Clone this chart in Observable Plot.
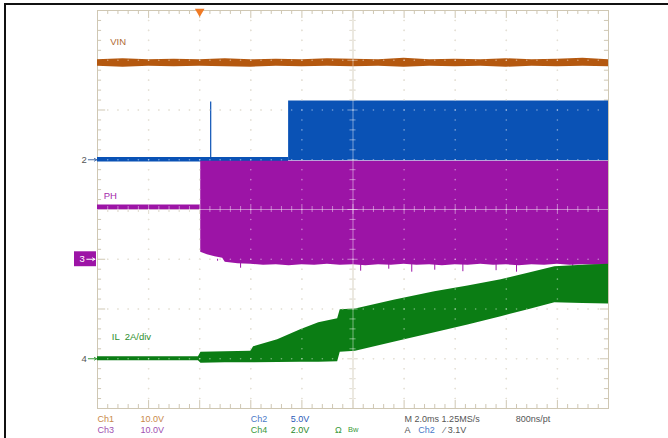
<!DOCTYPE html>
<html><head><meta charset="utf-8">
<script src="https://cdn.jsdelivr.net/npm/d3@7"></script>
<script src="https://cdn.jsdelivr.net/npm/@observablehq/plot@0.6"></script>
<style>
body{margin:0;background:#fff;}
#wrap{position:relative;width:668px;height:438px;overflow:hidden;background:#fff;}
#border{position:absolute;left:4px;top:3px;right:-10px;bottom:-10px;border-top:2px solid #111;border-left:2px solid #111;}
#chart{position:absolute;left:0;top:0;}
</style></head><body>
<div id="wrap"><div id="border"></div><div id="chart"></div></div>
<script>
// ---- channel settings (volts or amps per division, ground offset in divisions)
const chScale  = {ch1: 10, ch2: 5, ch3: 10, ch4: 2};
const chOffset = {ch1: 1.75, ch2: 1, ch3: -1, ch4: -3};

// ---- Ch1 VIN envelope (V), time in ms (trigger at 0)
const vinT  = [-4, -3, -2, -1, 0, 1, 2, 3, 4, 5, 6, 7, 8, 9, 10, 11, 12, 13, 14, 15, 16];
const vinHi = [12.6, 12.8, 12.6, 12.7, 12.6, 12.8, 12.6, 12.7, 12.6, 12.8, 12.7, 12.6, 12.9, 12.6, 12.7, 12.6, 12.8, 12.6, 12.7, 12.9, 12.6];
const vinLo = [11.3, 11.1, 11.3, 11.2, 11.3, 11.2, 11.1, 11.3, 11.2, 11.3, 11.2, 11.3, 11.1, 11.3, 11.2, 11.3, 11.1, 11.3, 11.2, 11.3, 11.2];

// ---- Ch2 (V)
const ch2PreT = [-4, 3.48];
const ch2PreHi = [0.22, 0.22];
const ch2PreLo = [-0.22, -0.22];
const ch2SpikeT = [0.43];
const ch2SpikeV = [5.8];
const ch2T  = [3.48, 16];
const ch2Hi = [5.9, 5.9];
const ch2Lo = [-0.1, -0.1];

// ---- Ch3 PH (V)
const phPreT  = [-4, 0.04];
const phPreHi = [10.9, 10.9];
const phPreLo = [9.9, 9.9];
const phT  = [0.04, 0.3, 0.6, 0.9, 1.0, 1.5, 2.0, 2.5, 3.0, 3.5, 4.0, 4.5, 5.0, 5.5, 6.0, 6.5, 7.0, 7.5, 8.0, 8.5, 9.0, 9.5, 10.0, 10.5, 11.0, 11.5, 12.0, 12.5, 13.0, 13.5, 14.0, 14.5, 15.0, 15.5, 16];
const phHi = phT.map(() => 19.7);
const phLo = [1.4, 0.9, 0.5, 0.2, -0.6, -0.9, -1.0, -1.2, -1.1, -1.3, -1.1, -1.2, -1.0, -1.2, -1.1, -1.3, -1.1, -1.2, -1.0, -1.2, -1.1, -1.3, -1.1, -1.2, -1.0, -1.2, -1.1, -1.3, -1.1, -1.2, -1.0, -1.2, -1.1, -1.2, -1.1];
const phSpikeT = [0.7, 1.6, 6.3, 7.4, 8.3, 9.2, 10.3, 11.6, 12.4, 14.6];
const phSpikeV = [-0.4, -1.8, -2.4, -2.0, -2.6, -2.2, -2.5, -2.3, -2.6, -2.0];

// ---- Ch4 IL (A)
const ilT  = [-4, -0.05, 0.05, 1.0, 2.0, 2.11, 3.05, 3.95, 4.66, 5.40, 5.50, 6.1, 7.6, 9.2, 10.5, 11.8, 12.9, 13.9, 15.0, 16];
const ilHi = [0.08, 0.08, 0.26, 0.28, 0.30, 0.48, 0.76, 1.17, 1.45, 1.61, 1.97, 2.0, 2.35, 2.69, 2.92, 3.18, 3.45, 3.70, 3.76, 3.80];
const ilLo = [-0.08, -0.08, -0.18, -0.16, -0.16, -0.16, -0.15, -0.14, -0.14, -0.12, 0.26, 0.30, 0.66, 1.05, 1.36, 1.69, 1.98, 2.25, 2.22, 2.20];

// ---- labels
const traceLabels = ["VIN", "PH", "IL  2A/div"];
const readoutRow1 = ["Ch1", "10.0V", "Ch2", "5.0V", "M 2.0ms 1.25MS/s", "800ns/pt"];
const readoutRow2 = ["Ch3", "10.0V", "Ch4", "2.0V", "Ω", "Bw", "A", "Ch2", "⁄ 3.1V"];

const C = {ch1: "#b4580f", ch2: "#0a52b5", ch3: "#9c14a6", ch4: "#0b7d14"};
const grat = "#cfc7b3";

const div = (ch, v) => chOffset[ch] + v / chScale[ch];
const rows = (T, H, L) => T.map((t, i) => ({t, hi: H[i], lo: L[i]}));

const vin = rows(vinT, vinHi, vinLo);
const ch2Pre = rows(ch2PreT, ch2PreHi, ch2PreLo);
const ch2 = rows(ch2T, ch2Hi, ch2Lo);
const phPre = rows(phPreT, phPreHi, phPreLo);
const ph = rows(phT, phHi, phLo);
const il = rows(ilT, ilHi, ilLo);
const ch2Spikes = ch2SpikeT.map((t, i) => ({t, v: ch2SpikeV[i]}));
const phSpikes = phSpikeT.map((t, i) => ({t, v: phSpikeV[i]}));

// graticule
const majorX = d3.range(-4, 16.001, 2);
const minorX = d3.range(-4, 16.001, 0.4).map(v => +v.toFixed(2));
const majorY = d3.range(-4, 4.001, 1);
const minorY = d3.range(-4, 4.001, 0.2).map(v => +v.toFixed(2));
const innerMajX = majorX.filter(x => x > -4 && x < 16 && x !== 6);
const innerMajY = majorY.filter(y => y > -4 && y < 4 && y !== 0);
const innerMinX = minorX.filter(x => x > -4 && x < 16);
const innerMinY = minorY.filter(y => y > -4 && y < 4);
const gridDots = [
  ...innerMajX.flatMap(x => innerMinY.map(y => ({x, y}))),
  ...innerMajY.flatMap(y => innerMinX.map(x => ({x, y})))
];
const isMajX = x => Math.abs(x / 2 - Math.round(x / 2)) < 1e-6;
const isMajY = y => Math.abs(y - Math.round(y)) < 1e-6;

function gratMarks(color, op) {
  return [
    Plot.dot(gridDots, {x: "x", y: "y", r: 0.8, fill: color, fillOpacity: op}),
    Plot.ruleX([6], {stroke: color, strokeOpacity: op}),
    Plot.ruleY([0], {stroke: color, strokeOpacity: op}),
    Plot.ruleX(innerMinX, {x: d => d, y1: d => isMajX(d) ? -0.1 : -0.06, y2: d => isMajX(d) ? 0.1 : 0.06, stroke: color, strokeOpacity: op}),
    Plot.ruleY(innerMinY, {y: d => d, x1: d => 6 - (isMajY(d) ? 0.2 : 0.12), x2: d => 6 + (isMajY(d) ? 0.2 : 0.12), stroke: color, strokeOpacity: op})
  ];
}

const fontFam = "Liberation Sans, Arial, sans-serif";

const plot = Plot.plot({
  width: 668, height: 438,
  marginLeft: 97, marginRight: 60, marginTop: 10, marginBottom: 30,
  x: {domain: [-4, 16], axis: null},
  y: {domain: [-4, 4], axis: null},
  style: {background: "transparent", fontFamily: fontFam},
  marks: [
    // graticule under traces
    ...gratMarks(grat, 1),
    // edge ticks
    Plot.ruleX(minorX, {x: d => d, y1: 4, y2: d => 4 - (isMajX(d) ? 0.16 : 0.08), stroke: grat}),
    Plot.ruleX(minorX, {x: d => d, y1: -4, y2: d => -4 + (isMajX(d) ? 0.16 : 0.08), stroke: grat}),
    Plot.ruleY(minorY, {y: d => d, x1: -4, x2: d => -4 + (isMajY(d) ? 0.32 : 0.16), stroke: grat}),
    Plot.ruleY(minorY, {y: d => d, x1: 16, x2: d => 16 - (isMajY(d) ? 0.32 : 0.16), stroke: grat}),
    Plot.frame({stroke: grat}),

    // Ch1 VIN
    Plot.areaY(vin, {x: "t", y1: d => div("ch1", d.lo), y2: d => div("ch1", d.hi), fill: C.ch1}),
    // Ch2
    Plot.areaY(ch2Pre, {x: "t", y1: d => div("ch2", d.lo), y2: d => div("ch2", d.hi), fill: C.ch2}),
    Plot.ruleX(ch2Spikes, {x: "t", y1: div("ch2", 0), y2: d => div("ch2", d.v), stroke: C.ch2, strokeWidth: 1.2}),
    Plot.areaY(ch2, {x: "t", y1: d => div("ch2", d.lo), y2: d => div("ch2", d.hi), fill: C.ch2}),
    // Ch3 PH
    Plot.areaY(phPre, {x: "t", y1: d => div("ch3", d.lo), y2: d => div("ch3", d.hi), fill: C.ch3}),
    Plot.areaY(ph, {x: "t", y1: d => div("ch3", d.lo), y2: d => div("ch3", d.hi), fill: C.ch3}),
    Plot.ruleX(phSpikes, {x: "t", y1: div("ch3", 0), y2: d => div("ch3", d.v), stroke: C.ch3, strokeWidth: 1}),
    // Ch4 IL
    Plot.areaY(il, {x: "t", y1: d => div("ch4", d.lo), y2: d => div("ch4", d.hi), fill: C.ch4}),

    // graticule highlight over traces
    ...gratMarks("#ffffff", 0.45),

    // trigger marker
    Plot.dot([0], {x: d => d, y: 4, symbol: "triangle", rotate: 180, r: 3.6, fill: "#f07a24", dy: 1}),

    // trace labels
    Plot.text([traceLabels[0]], {x: -3.5, y: 3.36, text: d => d, fill: "#b06a34", fontSize: 9.5, textAnchor: "start"}),
    Plot.text([traceLabels[1]], {x: -3.76, y: 0.28, text: d => d, fill: "#a528ab", fontSize: 9.5, textAnchor: "start"}),
    Plot.text([traceLabels[2]], {x: -3.44, y: -2.57, text: d => d, fill: "#2f8f2f", fontSize: 9.5, textAnchor: "start"}),

    // channel ground markers
    Plot.text(["2"], {x: -4.42, y: chOffset.ch2, text: d => d, fill: "#555", fontSize: 9.5, textAnchor: "end"}),
    Plot.arrow([0], {x1: -4.36, x2: -4.03, y1: chOffset.ch2, y2: chOffset.ch2, stroke: "#4a6fa8", headLength: 4, strokeWidth: 1}),
    Plot.rect([0], {x1: -4.9, x2: -4.04, y1: chOffset.ch3 - 0.15, y2: chOffset.ch3 + 0.15, fill: C.ch3}),
    Plot.text(["3"], {x: -4.5, y: chOffset.ch3, text: d => d, fill: "#fff", fontSize: 9.5, textAnchor: "end"}),
    Plot.arrow([0], {x1: -4.42, x2: -4.1, y1: chOffset.ch3, y2: chOffset.ch3, stroke: "#fff", headLength: 4, strokeWidth: 1}),
    Plot.text(["4"], {x: -4.42, y: chOffset.ch4, text: d => d, fill: "#555", fontSize: 9.5, textAnchor: "end"}),
    Plot.arrow([0], {x1: -4.36, x2: -4.03, y1: chOffset.ch4, y2: chOffset.ch4, stroke: "#3a9a3a", headLength: 4, strokeWidth: 1}),

    // readouts row 1
    Plot.text([readoutRow1[0]], {x: -4, y: -4.21, text: d => d, fill: "#c8884a", fontSize: 9, textAnchor: "start"}),
    Plot.text([readoutRow1[1]], {x: -2.32, y: -4.21, text: d => d, fill: "#c8884a", fontSize: 9, textAnchor: "start"}),
    Plot.text([readoutRow1[2]], {x: 2.0, y: -4.21, text: d => d, fill: "#4a7ac8", fontSize: 9, textAnchor: "start"}),
    Plot.text([readoutRow1[3]], {x: 3.56, y: -4.21, text: d => d, fill: "#2a5ab8", fontSize: 9, textAnchor: "start"}),
    Plot.text([readoutRow1[4]], {x: 8.02, y: -4.21, text: d => d, fill: "#555", fontSize: 9, textAnchor: "start"}),
    Plot.text([readoutRow1[5]], {x: 12.37, y: -4.21, text: d => d, fill: "#555", fontSize: 9, textAnchor: "start"}),
    // readouts row 2
    Plot.text([readoutRow2[0]], {x: -4, y: -4.44, text: d => d, fill: "#a050b0", fontSize: 9, textAnchor: "start"}),
    Plot.text([readoutRow2[1]], {x: -2.32, y: -4.44, text: d => d, fill: "#a050b0", fontSize: 9, textAnchor: "start"}),
    Plot.text([readoutRow2[2]], {x: 2.0, y: -4.44, text: d => d, fill: "#3a9a3a", fontSize: 9, textAnchor: "start"}),
    Plot.text([readoutRow2[3]], {x: 3.56, y: -4.44, text: d => d, fill: "#2a8a2a", fontSize: 9, textAnchor: "start"}),
    Plot.text([readoutRow2[4]], {x: 5.3, y: -4.44, text: d => d, fill: "#3a9a3a", fontSize: 9, textAnchor: "start"}),
    Plot.text([readoutRow2[5]], {x: 5.8, y: -4.42, text: d => d, fill: "#3a9a3a", fontSize: 7.5, textAnchor: "start"}),
    Plot.text([readoutRow2[6]], {x: 8.02, y: -4.44, text: d => d, fill: "#555", fontSize: 9, textAnchor: "start"}),
    Plot.text([readoutRow2[7]], {x: 8.55, y: -4.44, text: d => d, fill: "#4a7ac8", fontSize: 9, textAnchor: "start"}),
    Plot.text([readoutRow2[8]], {x: 9.55, y: -4.44, text: d => d, fill: "#555", fontSize: 9, textAnchor: "start"})
  ]
});
document.getElementById("chart").appendChild(plot);
</script>
</body></html>
